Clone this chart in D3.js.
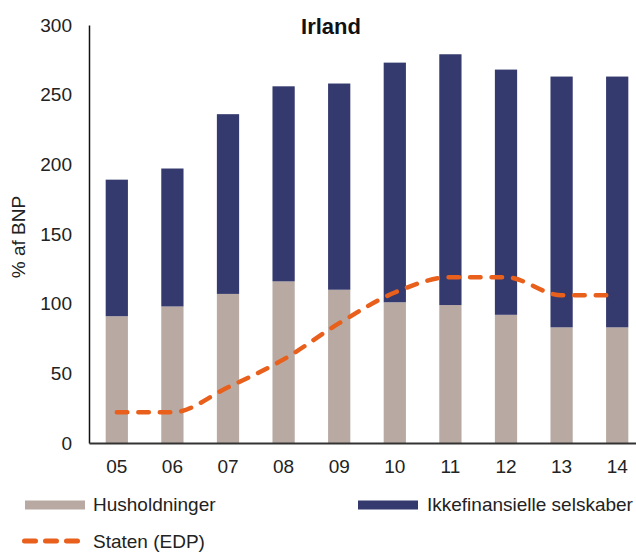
<!DOCTYPE html>
<html>
<head>
<meta charset="utf-8">
<script src="https://cdn.jsdelivr.net/npm/d3@7"></script>
<style>
  body { margin: 0; background: #fff; }
  svg { display: block; font-family: "Liberation Sans", Arial, sans-serif; }
</style>
</head>
<body>
<div id="chart"></div>
<script>
// data (% af BNP)
var years = ["05", "06", "07", "08", "09", "10", "11", "12", "13", "14"];
var husholdninger = [91, 98, 107, 116, 110, 101, 99, 92, 83, 83];
var selskaber = [98, 99, 129, 140, 148, 172, 180, 176, 180, 180];
var staten = [22, 22, 40, 60, 86, 108, 119, 119, 106, 106];
var yTicks = [0, 50, 100, 150, 200, 250, 300];

var width = 636, height = 552;
var colHus = "#b8aaa2", colSel = "#353a6e", colStat = "#e8601c";

var svg = d3.select("#chart").append("svg")
    .attr("width", width)
    .attr("height", height);

var x = d3.scaleBand()
    .domain(years)
    .range([89, 645])
    .paddingInner(0.6)
    .paddingOuter(0.3);

var y = d3.scaleLinear()
    .domain([0, 300])
    .range([443, 25]);

// title
svg.append("text")
    .attr("x", 331)
    .attr("y", 34)
    .attr("text-anchor", "middle")
    .style("font-size", "22px")
    .style("font-weight", "bold")
    .style("fill", "#111")
    .text("Irland");

// stacked bars
var rows = years.map(function (yr, i) {
    return { year: yr, hus: husholdninger[i], sel: selskaber[i] };
});

svg.append("g").selectAll("rect")
    .data(rows)
    .enter()
    .append("rect")
    .attr("x", function (d) { return x(d.year); })
    .attr("width", x.bandwidth())
    .attr("y", function (d) { return y(d.hus); })
    .attr("height", function (d) { return y(0) - y(d.hus); })
    .style("fill", colHus);

svg.append("g").selectAll("rect")
    .data(rows)
    .enter()
    .append("rect")
    .attr("x", function (d) { return x(d.year); })
    .attr("width", x.bandwidth())
    .attr("y", function (d) { return y(d.hus + d.sel); })
    .attr("height", function (d) { return y(d.hus) - y(d.hus + d.sel); })
    .style("fill", colSel);

// axes
var yAxis = svg.append("g")
    .attr("transform", "translate(89,0)")
    .call(d3.axisLeft(y).tickValues(yTicks).tickSize(0).tickSizeOuter(0).tickPadding(17));
yAxis.select(".domain").attr("stroke", "#111").attr("stroke-width", 1.5);
yAxis.selectAll("text")
    .style("font-size", "19px")
    .style("fill", "#222")
    .style("font-family", "\"Liberation Sans\", Arial, sans-serif");

var xAxis = svg.append("g")
    .attr("transform", "translate(0,443)")
    .call(d3.axisBottom(x).tickSize(0).tickSizeOuter(0).tickPadding(17));
xAxis.select(".domain").attr("stroke", "#333").attr("stroke-width", 2);
xAxis.selectAll("text")
    .style("font-size", "19px")
    .style("fill", "#222")
    .style("font-family", "\"Liberation Sans\", Arial, sans-serif");

svg.append("text")
    .attr("transform", "translate(25,237) rotate(-90)")
    .attr("text-anchor", "middle")
    .style("font-size", "19px")
    .style("fill", "#222")
    .text("% af BNP");

// government debt line (smoothed, dashed)
var line = d3.line()
    .x(function (d, i) { return x(years[i]) + x.bandwidth() / 2; })
    .y(function (d) { return y(d); })
    .curve(d3.curveMonotoneX);

svg.append("path")
    .datum(staten)
    .attr("d", line)
    .attr("fill", "none")
    .attr("stroke", colStat)
    .attr("stroke-width", 4.5)
    .attr("stroke-linecap", "round")
    .attr("stroke-dasharray", "10.5,11");

// legend
var legend = svg.append("g");

legend.append("rect")
    .attr("x", 25).attr("y", 500.5)
    .attr("width", 60).attr("height", 9)
    .style("fill", colHus);
legend.append("text")
    .attr("x", 93).attr("y", 511)
    .style("font-size", "19px").style("fill", "#222")
    .text("Husholdninger");

legend.append("rect")
    .attr("x", 358).attr("y", 500.5)
    .attr("width", 60).attr("height", 9)
    .style("fill", colSel);
legend.append("text")
    .attr("x", 427).attr("y", 511)
    .style("font-size", "19px").style("fill", "#222")
    .text("Ikkefinansielle selskaber");

legend.append("line")
    .attr("x1", 24.5).attr("x2", 77.5)
    .attr("y1", 541).attr("y2", 541)
    .attr("stroke", colStat)
    .attr("stroke-width", 5)
    .attr("stroke-linecap", "round")
    .attr("stroke-dasharray", "11,10");
legend.append("text")
    .attr("x", 93).attr("y", 548)
    .style("font-size", "19px").style("fill", "#222")
    .text("Staten (EDP)");
</script>
</body>
</html>
